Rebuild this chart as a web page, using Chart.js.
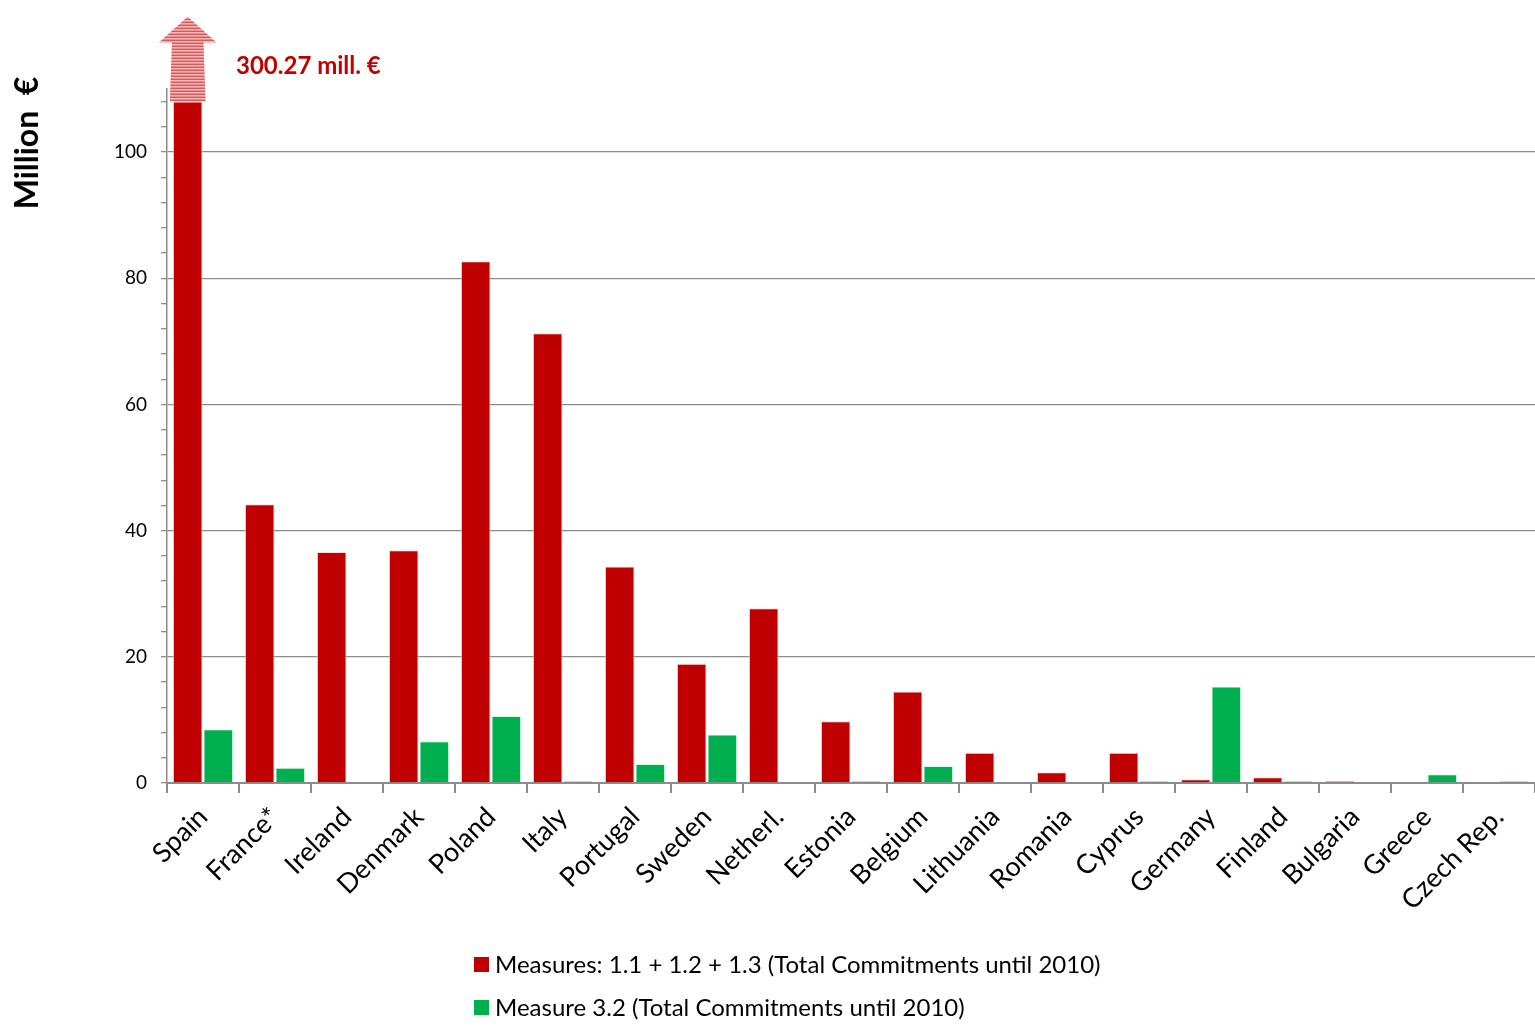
<!DOCTYPE html>
<html>
<head>
<meta charset="utf-8">
<script src="https://cdn.jsdelivr.net/npm/chart.js@4.4.1/dist/chart.umd.min.js"></script>
<style>
  html, body { margin: 0; padding: 0; background: #fff; }
  #wrap { position: relative; width: 1535px; height: 1036px; }
</style>
</head>
<body>
<div id="wrap"><canvas id="commit_chart"></canvas></div>
<script>
  // data
  const countries = ["Spain", "France*", "Ireland", "Denmark", "Poland", "Italy", "Portugal", "Sweden", "Netherl.", "Estonia",
    "Belgium", "Lithuania", "Romania", "Cyprus", "Germany", "Finland", "Bulgaria", "Greece", "Czech Rep."];
  const measures11to13 = [300.27, 44.2, 36.6, 36.9, 82.7, 71.3, 34.3, 18.9, 27.7, 9.8,
    14.5, 4.8, 1.7, 4.8, 0.6, 0.9, 0.3, 0, 0];
  const measure32 = [8.5, 2.4, 0, 6.6, 10.6, 0.3, 3.0, 7.7, 0, 0.3,
    2.7, 0, 0, 0.3, 15.3, 0.3, 0, 1.4, 0.3];
  const yMax = 110;
  const barCap = 108; // spain is cut off here, real value printed above
  const labelMeasures = "Measures: 1.1 + 1.2 + 1.3 (Total Commitments until 2010)";
  const labelMeasure32 = "Measure 3.2 (Total Commitments until 2010)";

  const red = "#C00000";
  const green = "#00B050";
  const axisGray = "#8c8c8c";
  const fontName = "Lato, 'Open Sans', sans-serif";

  // striped fill for the arrow
  function stripePattern(ctx) {
    const c = document.createElement("canvas");
    c.width = 4;
    c.height = 3;
    const p = c.getContext("2d");
    p.fillStyle = "#e98e8e";
    p.fillRect(0, 0, 4, 3);
    p.fillStyle = "#d65a5a";
    p.fillRect(0, 1, 4, 1);
    p.fillStyle = "#f4b8b8";
    p.fillRect(0, 2, 4, 1);
    return ctx.createPattern(c, "repeat");
  }

  const extrasPlugin = {
    id: "extras",
    afterDraw(chart) {
      const ctx = chart.ctx;
      ctx.save();

      // arrow on top of the capped bar
      const bar = chart.getDatasetMeta(0).data[0];
      const half = bar.width / 2;
      const baseY = bar.y;
      const shaftTop = baseY - 59;
      const tipY = baseY - 85;
      ctx.beginPath();
      ctx.moveTo(bar.x - half - 3, baseY);
      ctx.lineTo(bar.x - half - 1, shaftTop);
      ctx.lineTo(bar.x - half - 14, shaftTop);
      ctx.lineTo(bar.x, tipY);
      ctx.lineTo(bar.x + half + 14, shaftTop);
      ctx.lineTo(bar.x + half + 1, shaftTop);
      ctx.lineTo(bar.x + half + 3, baseY);
      ctx.closePath();
      ctx.fillStyle = stripePattern(ctx);
      ctx.fill();

      ctx.fillStyle = red;
      ctx.font = "bold 24px " + fontName;
      ctx.textAlign = "left";
      ctx.textBaseline = "middle";
      ctx.fillText(measures11to13[0].toFixed(2) + " mill. \u20ac", 236, 66);

      // y axis title
      ctx.save();
      ctx.translate(28, 143);
      ctx.rotate(-Math.PI / 2);
      ctx.fillStyle = "#000";
      ctx.font = "bold 32px " + fontName;
      ctx.textAlign = "center";
      ctx.fillText("Million  \u20ac", 0, 0);
      ctx.restore();

      // legend, stacked like the original
      const rows = [[red, labelMeasures, 964], [green, labelMeasure32, 1007]];
      ctx.font = "24px " + fontName;
      ctx.textAlign = "left";
      rows.forEach(function (r) {
        ctx.fillStyle = r[0];
        ctx.fillRect(474, r[2] - 7, 15, 15);
        ctx.fillStyle = "#000";
        ctx.fillText(r[1], 495, r[2] + 1);
      });

      ctx.restore();
    },
  };

  const commitChart = new Chart(document.getElementById("commit_chart"), {
    type: "bar",
    data: {
      labels: countries,
      datasets: [
        {
          label: labelMeasures,
          data: measures11to13.map(function (v) { return Math.min(v, barCap); }),
          backgroundColor: red,
          borderColor: "rgba(255,210,210,0.8)",
          borderWidth: 1,
          categoryPercentage: 0.85,
          barPercentage: 0.97,
        },
        {
          label: labelMeasure32,
          data: measure32,
          backgroundColor: green,
          borderColor: "rgba(200,255,220,0.8)",
          borderWidth: 1,
          categoryPercentage: 0.85,
          barPercentage: 0.97,
        },
      ],
    },
    plugins: [extrasPlugin],
    options: {
      responsive: true,
      maintainAspectRatio: false,
      animation: false,
      layout: { padding: { top: 89, left: 0, right: 0, bottom: 0 } },
      plugins: {
        legend: { display: false },
        tooltip: { enabled: false },
      },
      scales: {
        x: {
          offset: true,
          grid: {
            offset: true,
            drawOnChartArea: false,
            color: axisGray,
            tickLength: 10,
            lineWidth: 2,
          },
          border: { color: axisGray, width: 2 },
          ticks: {
            color: "#000",
            font: { family: fontName, size: 27 },
            maxRotation: 45,
            minRotation: 45,
            autoSkip: false,
            padding: 8,
          },
          afterFit: function (scale) {
            scale.height = 253;
            scale.paddingLeft = 0;
            scale.paddingRight = 0;
          },
        },
        y: {
          min: 0,
          max: yMax,
          grid: {
            color: function (c) {
              return c.tick && c.tick.value % 20 === 0 && c.tick.value > 0 ? axisGray : "transparent";
            },
            tickColor: axisGray,
            tickLength: 6,
            lineWidth: 1.3,
          },
          border: { color: axisGray, width: 1.5 },
          ticks: {
            stepSize: 4,
            includeBounds: false,
            autoSkip: false,
            padding: 14,
            color: "#000",
            font: { family: fontName, size: 19 },
            callback: function (value) {
              return value % 20 === 0 ? value : "";
            },
          },
          afterFit: function (scale) {
            scale.width = 167;
          },
        },
      },
    },
  });
</script>
</body>
</html>
